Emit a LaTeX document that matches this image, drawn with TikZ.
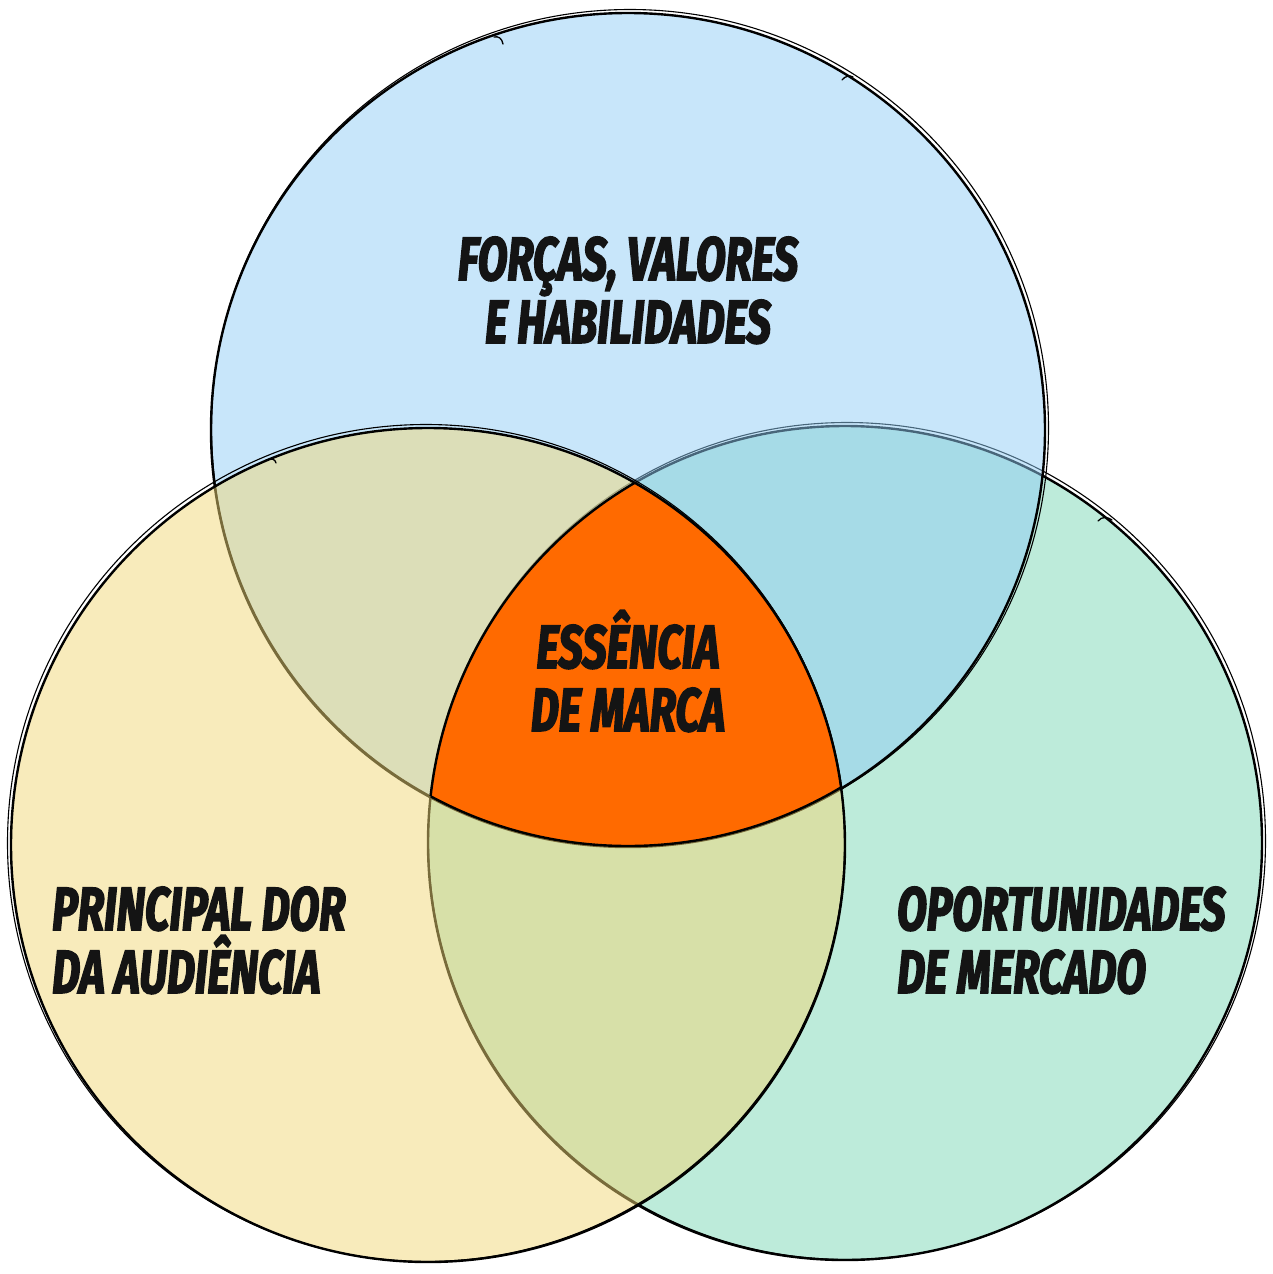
\documentclass[tikz,border=0pt]{standalone}
\usepackage{fontspec}
\newfontfamily\hand{Fira Sans}[FakeStretch=0.71,FakeBold=2.5]
\definecolor{gfill}{RGB}{189,235,218}
\definecolor{bfill}{RGB}{145,205,245}
\definecolor{yfill}{RGB}{241,215,119}
\definecolor{orng}{RGB}{255,106,0}
\definecolor{ink}{RGB}{20,20,20}
\tikzset{
  ring/.style={draw=black, line width=2.4pt},
  ringtwo/.style={draw=black, line width=1.1pt},
  hook/.style={draw=black, line width=1.3pt, line cap=round},
  lbl/.style={font=\hand\bfseries\itshape\fontsize{61}{63}\selectfont, text=ink, inner sep=0pt},
}
\begin{document}
\begin{tikzpicture}[x=1pt,y=-1pt]
\useasboundingbox (0,0) rectangle (1273,1274);
% green circle (bottom layer)
\path[fill=gfill, ring] (845,843) circle[radius=417];
\path[ringtwo] (847,841) circle[radius=418.5];
\path[hook] (1098,521) .. controls (1102,516) and (1108,517) .. (1112,520);
% blue circle
\path[fill=bfill, fill opacity=0.5, ring] (628,430) circle[radius=417];
\path[ringtwo] (630,428) circle[radius=418.5];
\path[hook] (503,44) .. controls (502,38) and (498,36) .. (494,37);
\path[hook] (842,80) .. controls (845,76) and (850,75) .. (853,77);
% yellow circle
\path[fill=yfill, fill opacity=0.5, ring] (428,845) circle[radius=417];
\path[ringtwo] (426,843) circle[radius=418.5];
\path[hook] (276,463) .. controls (275,459) and (272,458) .. (266,460);
% centre region
\begin{scope}
  \clip (628,430) circle[radius=416];
  \clip (428,845) circle[radius=417];
  \fill[orng] (845,843) circle[radius=417];
\end{scope}
\begin{scope}
  \clip (428,845) circle[radius=417];
  \clip (845,843) circle[radius=417];
  \path[ring] (628,430) circle[radius=416];
\end{scope}
\begin{scope}
  \clip (628,430) circle[radius=416];
  \clip (845,843) circle[radius=417];
  \path[ring] (428,845) circle[radius=417];
\end{scope}
\begin{scope}
  \clip (628,430) circle[radius=416];
  \clip (428,845) circle[radius=417];
  \path[ring] (845,843) circle[radius=417];
\end{scope}
% labels
\node[lbl, anchor=base] (t1) at (628,280) {FORÇAS, VALORES};
\node[lbl, anchor=base] (t2) at (628,343) {E HABILIDADES};
\node[lbl, anchor=base] (c1) at (628,668) {ESSÊNCIA};
\node[lbl, anchor=base] (c2) at (628,731) {DE MARCA};
\node[lbl, anchor=base west] (l1) at (52,930) {PRINCIPAL DOR};
\node[lbl, anchor=base west] (l2) at (52,993) {DA AUDIÊNCIA};
\node[lbl, anchor=base west] (r1) at (897,930) {OPORTUNIDADES};
\node[lbl, anchor=base west] (r2) at (897,993) {DE MERCADO};
\end{tikzpicture}
\end{document}
